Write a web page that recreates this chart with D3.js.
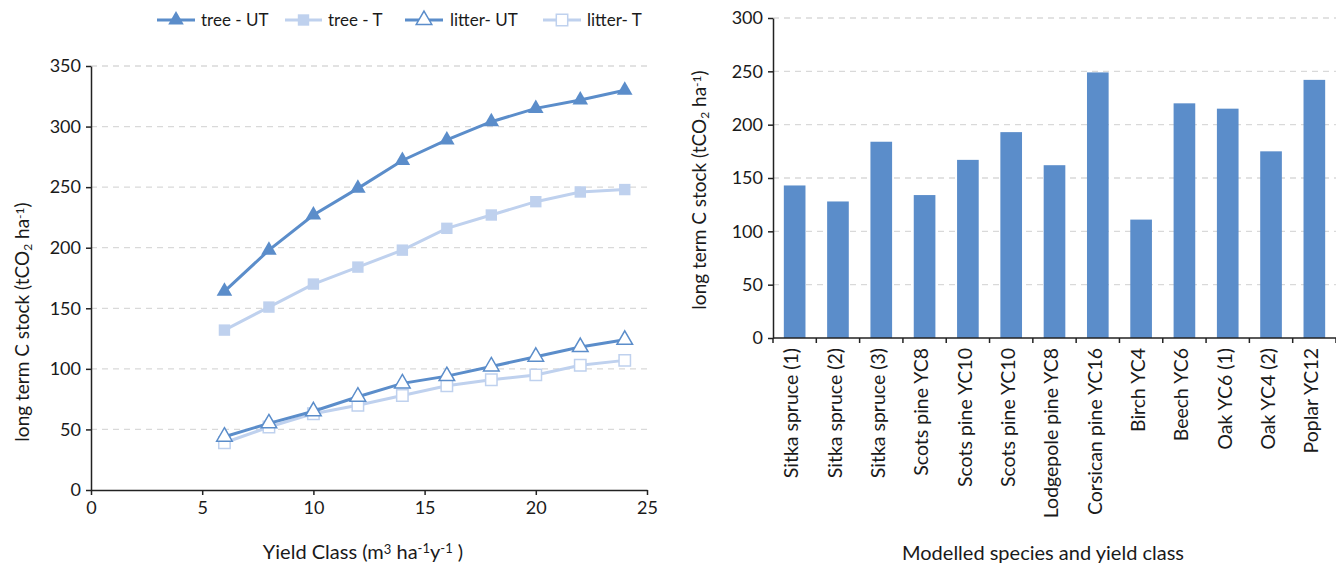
<!DOCTYPE html>
<html>
<head>
<meta charset="utf-8">
<script src="https://cdn.jsdelivr.net/npm/d3@7/dist/d3.min.js"></script>
<style>
  html, body { margin: 0; padding: 0; background: #fff; }
  svg { display: block; font-family: Lato, "Open Sans", sans-serif; }
</style>
</head>
<body>
<svg id="chart" width="1336" height="570"></svg>
<script>
// ---- Left panel: long-term carbon stock against yield class ----
const yieldClass = [6, 8, 10, 12, 14, 16, 18, 20, 22, 24];
const treeUT   = [164, 198, 227, 249, 272, 289, 304, 315, 322, 330];
const treeT    = [132, 151, 170, 184, 198, 216, 227, 238, 246, 248];
const litterUT = [44, 55, 65, 77, 88, 94, 102, 110, 118, 124];
const litterT  = [39, 52, 63, 70, 78, 86, 91, 95, 103, 107];
const seriesNames = ["tree - UT", "tree - T", "litter- UT", "litter- T"];
const leftYTicks = [0, 50, 100, 150, 200, 250, 300, 350];
const leftXTicks = [0, 5, 10, 15, 20, 25];

// ---- Right panel: modelled species ----
const species = ["Sitka spruce (1)", "Sitka spruce (2)", "Sitka spruce (3)", "Scots pine YC8",
  "Scots pine YC10", "Scots pine YC10 ", "Lodgepole pine YC8", "Corsican pine YC16",
  "Birch YC4", "Beech YC6", "Oak YC6 (1)", "Oak YC4 (2)", "Poplar YC12"];
const speciesStock = [143, 128, 184, 134, 167, 193, 162, 249, 111, 220, 215, 175, 242];
const rightYTicks = [0, 50, 100, 150, 200, 250, 300];

const DARK = "#5b8dca";
const LIGHT = "#bfd1ee";
const GRID = "#d9d9d9";
const TEXT = "#1a1a1a";
const TICK_FONT = "18px";
const TITLE_FONT = "19px";

const svg = d3.select("#chart");

// unit label "(tCO2 ha-1)" with sub/superscripts
function stockTitle(sel) {
  sel.append("tspan").text("long term C stock (tCO");
  sel.append("tspan").attr("baseline-shift", "-28%").attr("font-size", "12px").text("2");
  sel.append("tspan").text(" ha");
  sel.append("tspan").attr("baseline-shift", "45%").attr("font-size", "12px").text("-1");
  sel.append("tspan").text(")");
}

// ================= Left line chart =================
const L = { left: 91, right: 647, top: 66, bottom: 490 };
const xL = d3.scaleLinear().domain([0, 25]).range([L.left, L.right]);
const yL = d3.scaleLinear().domain([0, 350]).range([L.bottom, L.top]);

const gL = svg.append("g");

// gridlines
gL.append("g").selectAll("line").data(leftYTicks.filter(d => d > 0)).join("line")
  .attr("x1", L.left).attr("x2", L.right + 1)
  .attr("y1", d => yL(d)).attr("y2", d => yL(d))
  .attr("stroke", GRID).attr("stroke-width", 1.3).attr("stroke-dasharray", "6,5");

const axLY = gL.append("g").attr("transform", `translate(${L.left},0)`)
  .call(d3.axisLeft(yL).tickValues(leftYTicks).tickSize(5).tickPadding(5).tickSizeOuter(0));
const axLX = gL.append("g").attr("transform", `translate(0,${L.bottom})`)
  .call(d3.axisBottom(xL).tickValues(leftXTicks).tickSize(5).tickPadding(6).tickSizeOuter(0));
[axLY, axLX].forEach(a => {
  a.select(".domain").attr("stroke", "#222").attr("stroke-width", 1.5);
  a.selectAll(".tick line").attr("stroke", "#222").attr("stroke-width", 1.5);
  a.selectAll("text").attr("font-size", TICK_FONT).attr("fill", TEXT).attr("font-family", "Lato, sans-serif");
});

const seriesData = [
  { name: seriesNames[0], vals: treeUT,   color: DARK,  shape: "tri", fill: DARK },
  { name: seriesNames[1], vals: treeT,    color: LIGHT, shape: "sq",  fill: LIGHT },
  { name: seriesNames[2], vals: litterUT, color: DARK,  shape: "tri", fill: "#fff" },
  { name: seriesNames[3], vals: litterT,  color: LIGHT, shape: "sq",  fill: "#fff" }
];

const triSym = d3.symbol().type(d3.symbolTriangle).size(105);
const sqSym = d3.symbol().type(d3.symbolSquare).size(130);

const line = d3.line().x(d => xL(d[0])).y(d => yL(d[1]));

// draw litter first, then tree lines on top
[3, 2, 1, 0].forEach(i => {
  const s = seriesData[i];
  const pts = yieldClass.map((x, k) => [x, s.vals[k]]);
  const g = gL.append("g");
  g.append("path").datum(pts).attr("d", line)
    .attr("fill", "none").attr("stroke", s.color).attr("stroke-width", 3);
  g.selectAll("path.m").data(pts).join("path").attr("class", "m")
    .attr("transform", d => `translate(${xL(d[0])},${yL(d[1])})`)
    .attr("d", s.shape === "tri" ? triSym : sqSym)
    .attr("fill", s.fill)
    .attr("stroke", s.fill === "#fff" ? s.color : "none")
    .attr("stroke-width", 1.5);
});

// legend
const legendPos = [
  { x0: 157, x1: 195, text: 201 },
  { x0: 285, x1: 322, text: 328 },
  { x0: 405, x1: 443, text: 450 },
  { x0: 543, x1: 581, text: 587 }
];
const legY = 20;
seriesData.forEach((s, i) => {
  const p = legendPos[i];
  const g = svg.append("g");
  g.append("line").attr("x1", p.x0).attr("x2", p.x1).attr("y1", legY).attr("y2", legY)
    .attr("stroke", s.color).attr("stroke-width", 3);
  g.append("path").attr("transform", `translate(${(p.x0 + p.x1) / 2},${legY})`)
    .attr("d", s.shape === "tri" ? triSym : sqSym)
    .attr("fill", s.fill)
    .attr("stroke", s.fill === "#fff" ? s.color : "none").attr("stroke-width", 1.5);
  g.append("text").attr("x", p.text).attr("y", legY).attr("dy", "0.35em")
    .attr("font-size", "17px").attr("fill", TEXT).text(s.name);
});

// left axis titles
const ltL = svg.append("text").attr("transform", "translate(29,322) rotate(-90)")
  .attr("text-anchor", "middle").attr("font-size", TITLE_FONT).attr("fill", TEXT);
stockTitle(ltL);

const xtL = svg.append("text").attr("x", 363).attr("y", 559)
  .attr("text-anchor", "middle").attr("font-size", "20px").attr("fill", TEXT);
xtL.append("tspan").text("Yield Class (m");
xtL.append("tspan").attr("baseline-shift", "40%").attr("font-size", "13px").text("3");
xtL.append("tspan").text("  ha");
xtL.append("tspan").attr("baseline-shift", "45%").attr("font-size", "13px").text("-1");
xtL.append("tspan").text("y");
xtL.append("tspan").attr("baseline-shift", "45%").attr("font-size", "13px").text("-1");
xtL.append("tspan").text(" )");

// ================= Right bar chart =================
const R = { left: 773, right: 1336, top: 18, bottom: 338 };
const xR = d3.scaleBand().domain(species).range([R.left, R.right]).paddingInner(0.5).paddingOuter(0.25);
const yR = d3.scaleLinear().domain([0, 300]).range([R.bottom, R.top]);

const gR = svg.append("g");
gR.append("g").selectAll("line").data(rightYTicks.filter(d => d > 0)).join("line")
  .attr("x1", R.left).attr("x2", R.right)
  .attr("y1", d => yR(d)).attr("y2", d => yR(d))
  .attr("stroke", GRID).attr("stroke-width", 1.3).attr("stroke-dasharray", "6,5");

gR.append("g").selectAll("rect").data(species).join("rect")
  .attr("x", d => xR(d))
  .attr("width", xR.bandwidth())
  .attr("y", (d, i) => yR(speciesStock[i]))
  .attr("height", (d, i) => yR(0) - yR(speciesStock[i]))
  .attr("fill", DARK);

const axRY = gR.append("g").attr("transform", `translate(${R.left},0)`)
  .call(d3.axisLeft(yR).tickValues(rightYTicks).tickSize(5).tickPadding(5).tickSizeOuter(0));
axRY.select(".domain").attr("stroke", "#222").attr("stroke-width", 1.5);
axRY.selectAll(".tick line").attr("stroke", "#222").attr("stroke-width", 1.5);
axRY.selectAll("text").attr("font-size", TICK_FONT).attr("fill", TEXT).attr("font-family", "Lato, sans-serif");

// category axis: ticks at band boundaries
const step = xR.step();
const boundaries = d3.range(species.length + 1).map(i => R.left + i * step);
const axRX = gR.append("g");
axRX.append("line").attr("x1", R.left).attr("x2", R.right).attr("y1", R.bottom).attr("y2", R.bottom)
  .attr("stroke", "#222").attr("stroke-width", 1.5);
axRX.selectAll("line.t").data(boundaries).join("line").attr("class", "t")
  .attr("x1", d => d).attr("x2", d => d).attr("y1", R.bottom).attr("y2", R.bottom + 5)
  .attr("stroke", "#222").attr("stroke-width", 1.5);
axRX.selectAll("text").data(species).join("text")
  .attr("transform", d => `translate(${xR(d) + xR.bandwidth() / 2 - 3},${R.bottom + 10}) rotate(-90)`)
  .attr("text-anchor", "end").attr("dy", "0.35em")
  .attr("font-size", "19.5px").attr("fill", TEXT)
  .text(d => d.trim());

const ltR = svg.append("text").attr("transform", "translate(706,190) rotate(-90)")
  .attr("text-anchor", "middle").attr("font-size", TITLE_FONT).attr("fill", TEXT);
stockTitle(ltR);

svg.append("text").attr("x", 1043).attr("y", 560).attr("text-anchor", "middle")
  .attr("font-size", "20px").attr("fill", TEXT).text("Modelled species and yield class");
</script>
</body>
</html>
